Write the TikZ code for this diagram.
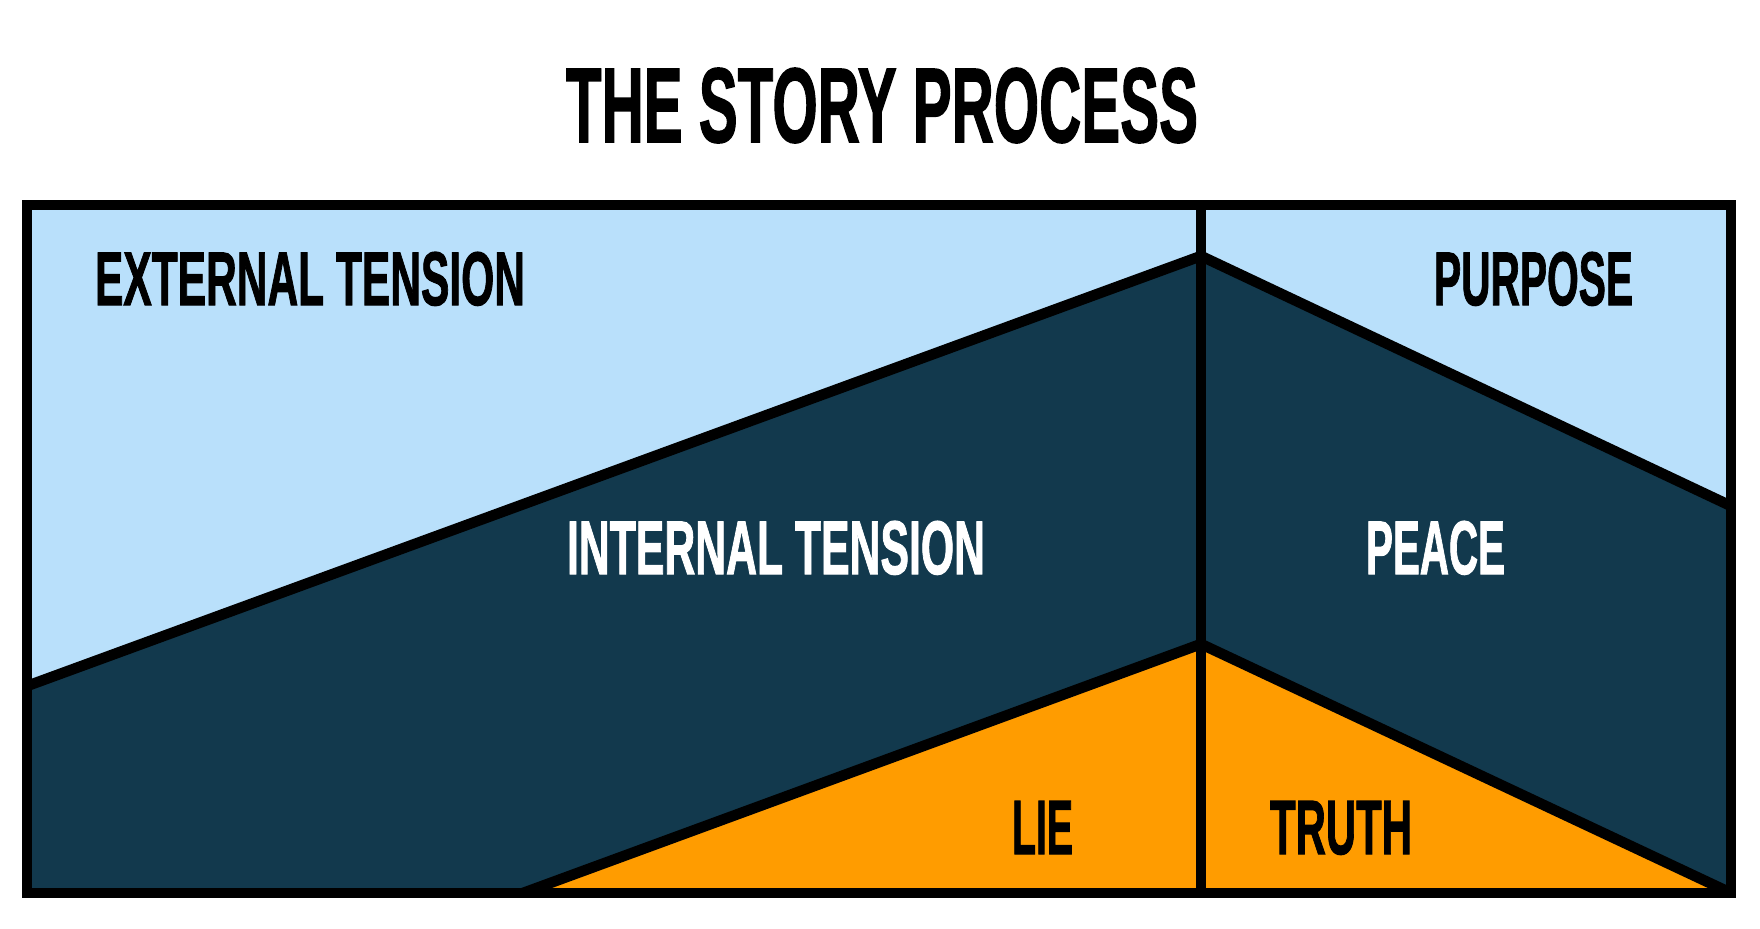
\documentclass[tikz,border=0pt]{standalone}
\usepackage{fontspec}
\setmainfont{Liberation Sans}
\newfontfamily\heavy{Liberation Sans}[BoldFeatures={FakeBold=1.6}]
\usepackage{graphicx}
\definecolor{sky}{HTML}{B9E0FB}
\definecolor{navy}{HTML}{12394D}
\definecolor{amber}{HTML}{FF9C00}
\newlength\pxu
\setlength\pxu{0.5pt}
\newcommand{\lbl}[3]{\resizebox{#1\pxu}{#2\pxu}{\heavy\bfseries #3}}
\begin{document}
\begin{tikzpicture}[x=0.5pt,y=-0.5pt,
  edge/.style={line width=5.3pt, line join=miter, line cap=butt},
  lab/.style={anchor=base west, inner sep=0pt, outer sep=0pt}]
\useasboundingbox (0,0) rectangle (1760,928);
% corners and break points
\coordinate (tl) at (27,205);
\coordinate (br) at (1731,893);
\coordinate (bl) at (27,893);
\coordinate (dt) at (1201,205);
\coordinate (db) at (1201,893);
\coordinate (ul) at (27,686);
\coordinate (up) at (1201,256);
\coordinate (ur) at (1731,506);
\coordinate (ll) at (523,893);
\coordinate (lp) at (1201,644);
% fills
\fill[sky] (tl) rectangle (br);
\fill[navy] (ul) -- (up) -- (ur) -- (br) -- (bl) -- cycle;
\fill[amber] (ll) -- (lp) -- (br) -- cycle;
% lines
\draw[edge] (ul) -- (up) -- (ur);
\draw[edge] (ll) -- (lp) -- (br);
\draw[edge] (dt) -- (db);
\draw[edge] (tl) rectangle (br);
% labels
\node[lab] (title) at (566,142) {\lbl{632}{74}{THE STORY PROCESS}};
\node[lab] (ext) at (95,305) {\lbl{430}{53}{EXTERNAL TENSION}};
\node[lab] (purp) at (1434,305) {\lbl{199}{53}{PURPOSE}};
\node[lab, text=white] (int) at (567,574) {\lbl{418}{53}{INTERNAL TENSION}};
\node[lab, text=white] (peace) at (1366,574) {\lbl{139}{53}{PEACE}};
\node[lab] (lie) at (1012,854) {\lbl{61}{53}{LIE}};
\node[lab] (truth) at (1270,854) {\lbl{142}{53}{TRUTH}};
\end{tikzpicture}
\end{document}
